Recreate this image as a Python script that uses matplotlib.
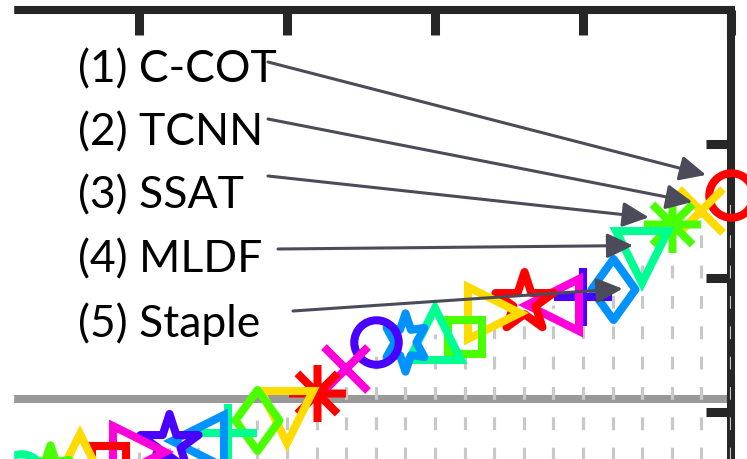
import colorsys
import numpy as np
import matplotlib.pyplot as plt
from matplotlib.path import Path
from matplotlib.patches import Rectangle

# expected average overlap, trackers ordered by rank (1 = best, right-most)
ranks = np.arange(1, 26)
eao = [0.331, 0.325, 0.320, 0.308, 0.296, 0.293, 0.290, 0.291, 0.287, 0.278,
       0.279, 0.276, 0.276, 0.266, 0.257, 0.248, 0.247, 0.242, 0.239, 0.238,
       0.235, 0.231, 0.232, 0.227, 0.226]
bound = 0.255
labels = ["(1) C-COT", "(2) TCNN", "(3) SSAT", "(4) MLDF", "(5) Staple"]
xticks = [1, 6, 11, 16, 21, 26]
yticks = [0.25, 0.30, 0.35]

W, H = 747, 460
px_rank = 29.6      # pixels per rank step
px_unit = 2680.0    # pixels per unit of EAO


def star(n, inner, xscale=1.0):
    ang = np.pi / 2 + np.arange(2 * n) * np.pi / n
    rad = np.where(np.arange(2 * n) % 2 == 0, 1.0, inner)
    v = np.column_stack([xscale * rad * np.cos(ang), rad * np.sin(ang)])
    v = np.vstack([v, v[:1]])
    codes = [Path.MOVETO] + [Path.LINETO] * (2 * n - 1) + [Path.CLOSEPOLY]
    return Path(v, codes)


d = np.sqrt(0.5)
asterisk = Path([(0, -1), (0, 1), (-1, 0), (1, 0), (-d, -d), (d, d), (-d, d), (d, -d)],
                [Path.MOVETO, Path.LINETO] * 4)
diamond = Path([(0, 1), (0.72, 0), (0, -1), (-0.72, 0), (0, 1)],
               [Path.MOVETO, Path.LINETO, Path.LINETO, Path.LINETO, Path.CLOSEPOLY])

# matlab-like marker cycle: (marker, size in points)
markers = [("o", 32), ("x", 31), (asterisk, 41), ("v", 37), (diamond, 44),
           ("+", 42), ("<", 37), (star(5, 0.382), 44), (">", 37), ("s", 25),
           ("^", 37), (star(6, 0.5, 0.75), 42)]
colors = [colorsys.hsv_to_rgb(k / 7, 1, 1) for k in range(7)]

fig = plt.figure(figsize=(W / 100, H / 100), dpi=100)

x_right, x_left = 1.0, 30.0
y_bottom, y_top = 0.15, 0.40
ax_r, ax_t = 731.0, 11.0            # right spine / top spine in image pixels
ax_w = (x_left - x_right) * px_rank
ax_h = (y_top - y_bottom) * px_unit
ax = fig.add_axes([(ax_r - ax_w) / W, (H - ax_t - ax_h) / H, ax_w / W, ax_h / H])
ax.set_xlim(x_left, x_right)
ax.set_ylim(y_bottom, y_top)

for s in ["left", "bottom"]:
    ax.spines[s].set_visible(False)
for s in ["top", "right"]:
    ax.spines[s].set_linewidth(5.8)
    ax.spines[s].set_color("#262626")
ax.xaxis.tick_top()
ax.yaxis.tick_right()
ax.set_xticks(xticks)
ax.set_yticks(yticks)
ax.tick_params(direction="in", length=18, width=6.5, color="#262626",
               labeltop=False, labelright=False)

ax.axhline(bound, color="#999999", lw=5.8, zorder=1)
ax.vlines(ranks, y_bottom, eao, colors="#c8c8c8", lw=2.3,
          linestyles=(0, (4, 5.5)), zorder=3)

for i, (r, v) in enumerate(zip(ranks, eao)):
    m, ms = markers[i % len(markers)]
    ax.plot(r, v, marker=m, ms=ms, mfc="none", mec=colors[i % 7], mew=5.8,
            clip_on=False, zorder=4, ls="none")

# labels with arrows to the top five
text_x = 78
text_y = [82, 145, 208, 272, 337]
starts = [(268, 63), (268, 120), (268, 177), (278, 250), (293, 312)]
tip_off = [(-25, -20), (-9, -9), (-23, -7), (-9, -11), (10, 0)]
for k, lab in enumerate(labels):
    fig.text(text_x / W, 1 - text_y[k] / H, lab, fontsize=32, family="Lato",
             ha="left", va="baseline", color="black")
    px, py = ax.transData.transform((ranks[k], eao[k]))
    tip = (px + tip_off[k][0], py - tip_off[k][1])
    ax.annotate("", xy=tip, xycoords="figure pixels",
                xytext=(starts[k][0], H - starts[k][1]), textcoords="figure pixels",
                arrowprops=dict(arrowstyle="-|>,head_length=0.8,head_width=0.38",
                                color="#4b4b5a", lw=2.2, shrinkA=0, shrinkB=0,
                                mutation_scale=20),
                annotation_clip=False, zorder=6)

# white margin on the left edge of the crop
fig.patches.append(Rectangle((0, 0), 13 / W, 1, transform=fig.transFigure,
                             color="white", zorder=20))

fig.savefig("out.png", dpi=100)
